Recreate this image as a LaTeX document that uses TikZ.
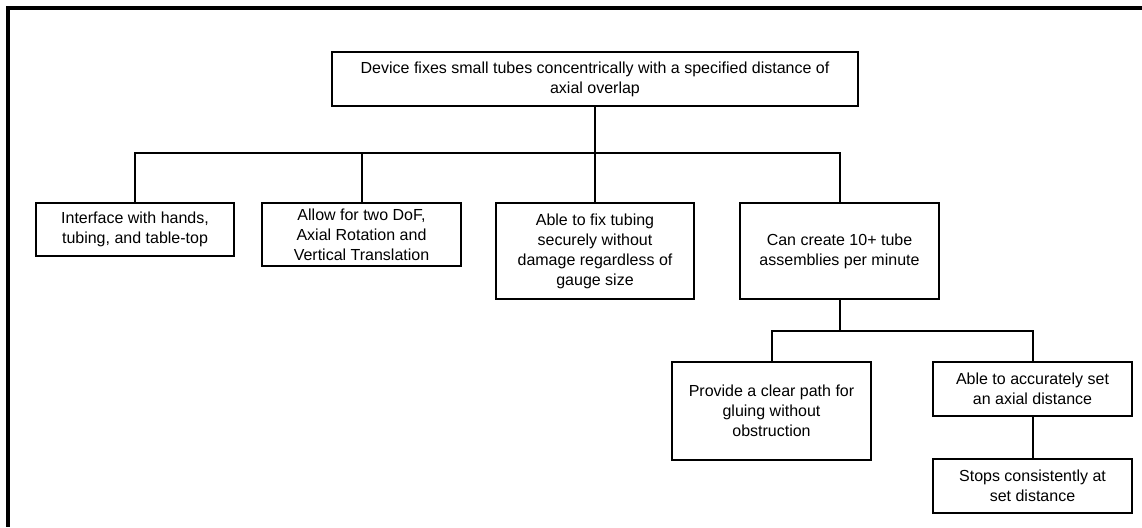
\documentclass[tikz,border=0pt]{standalone}
\usepackage{fontspec}
\setmainfont{Liberation Sans}
\begin{document}
\begin{tikzpicture}[x=1pt,y=-1pt,
  box/.style={draw, line width=2pt, rectangle, inner sep=0pt, align=center,
    font=\fontsize{16}{20}\selectfont},
  conn/.style={line width=2pt}]
\useasboundingbox (0,0) rectangle (1142,527);
\fill[white] (0,0) rectangle (1142,527);
\draw[line width=4pt] (1142,8) -- (8,8) -- (8,527);

\node[box, minimum width=526pt, minimum height=54pt] (root) at (595,79)
  {Device fixes small tubes concentrically with a specified distance of\\axial overlap};
\node[box, minimum width=198pt, minimum height=53pt] (a) at (135,229.5)
  {Interface with hands,\\tubing, and table-top};
\node[box, minimum width=199pt, minimum height=63pt] (b) at (361.5,234.5)
  {Allow for two DoF,\\Axial Rotation and\\Vertical Translation};
\node[box, minimum width=198pt, minimum height=96pt] (c) at (595,251)
  {Able to fix tubing\\securely without\\damage regardless of\\gauge size};
\node[box, minimum width=199pt, minimum height=96pt] (d) at (839.5,251)
  {Can create 10+ tube\\assemblies per minute};
\node[box, minimum width=199pt, minimum height=98pt] (e) at (771.5,411)
  {Provide a clear path for\\gluing without\\obstruction};
\node[box, minimum width=199pt, minimum height=54pt] (f) at (1032.5,389)
  {Able to accurately set\\an axial distance};
\node[box, minimum width=199pt, minimum height=54pt] (g) at (1032.5,486)
  {Stops consistently at\\set distance};

\coordinate (j1) at (595,153);
\coordinate (j2) at (839.5,331);
\draw[conn] (root.south) -- (j1);
\draw[conn] (a.north) |- (j1) -| (d.north);
\draw[conn] (b.north) -- (b.north |- j1);
\draw[conn] (c.north) -- (j1);
\draw[conn] (d.south) -- (j2);
\draw[conn] (e.north) |- (j2) -| (f.north);
\draw[conn] (f.south) -- (g.north);
\end{tikzpicture}
\end{document}
